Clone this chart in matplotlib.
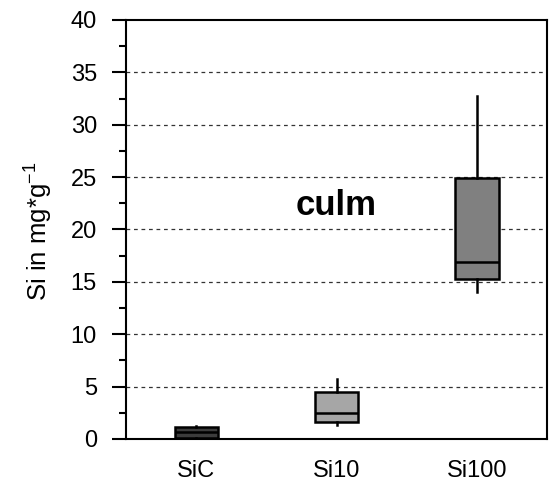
import matplotlib
matplotlib.use("Agg")
import matplotlib.pyplot as plt

plt.rcParams["font.family"] = ["Liberation Sans", "DejaVu Sans"]
plt.rcParams["mathtext.fontset"] = "custom"
plt.rcParams["mathtext.rm"] = "Liberation Sans"

# data (Si in mg*g-1)
groups = ["SiC", "Si10", "Si100"]
whis_lo = [0.02, 1.33, 14.0]
q1 = [0.1, 1.59, 15.3]
med = [0.65, 2.45, 16.85]
q3 = [1.12, 4.44, 24.95]
whis_hi = [1.25, 5.7, 32.75]
box_colors = ["#3c3c3c", "#a6a6a6", "#808080"]

stats = [
    dict(label=g, whislo=lo, q1=a, med=m, q3=b, whishi=hi, fliers=[])
    for g, lo, a, m, b, hi in zip(groups, whis_lo, q1, med, q3, whis_hi)
]

fig = plt.figure(figsize=(5.52, 4.82), dpi=100)
ax = fig.add_axes([0.2285, 0.0893, 0.7625, 0.8693])

bp = ax.bxp(stats, positions=[1, 2, 3], widths=0.31, patch_artist=True,
            showcaps=False,
            boxprops=dict(linewidth=1.8, edgecolor="black"),
            medianprops=dict(color="black", linewidth=1.8),
            whiskerprops=dict(color="black", linewidth=1.8))
for patch, c in zip(bp["boxes"], box_colors):
    patch.set_facecolor(c)
    patch.set_zorder(3)
for line in bp["medians"] + bp["whiskers"]:
    line.set_zorder(3)

ax.set_xlim(0.5, 3.5)
ax.set_ylim(0, 40)
ax.set_yticks(range(0, 41, 5))
ax.set_yticks([y + 2.5 for y in range(0, 40, 5)], minor=True)

# dashed grid at 5..35 only
for y in range(5, 40, 5):
    ax.axhline(y, color="#333333", linestyle=(0, (3, 3)), linewidth=0.9, zorder=1)

for s in ax.spines.values():
    s.set_linewidth(1.5)
ax.tick_params(axis="y", which="major", length=10, width=1.5, pad=11,
               labelsize=17, direction="out")
ax.tick_params(axis="y", which="minor", length=5, width=1.5, direction="out")
ax.tick_params(axis="x", length=0, pad=15, labelsize=17)
ax.tick_params(right=False, top=False)

ax.set_ylabel("Si in mg*g$^{-1}$", fontsize=18.5)
ax.yaxis.set_label_coords(-0.172, 0.495)

ax.text(2.0, 22.3, "culm", fontsize=25, fontweight="bold",
        ha="center", va="center", zorder=4)

fig.savefig("out.png", dpi=100)
